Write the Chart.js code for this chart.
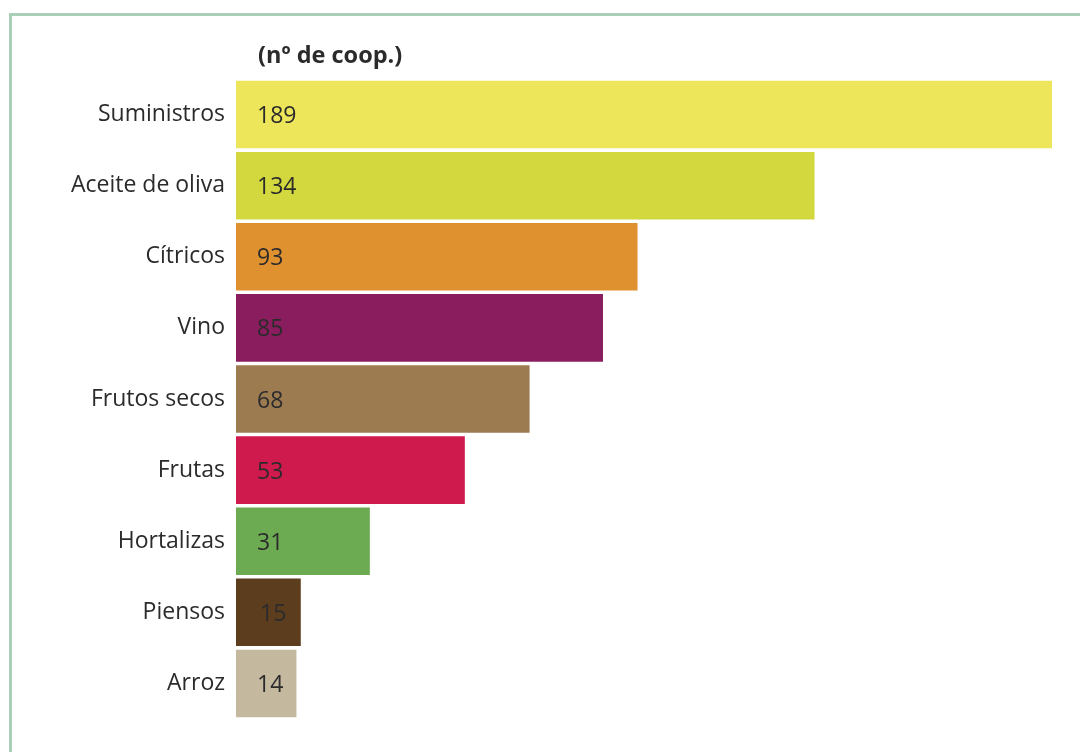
<!DOCTYPE html>
<html>
<head>
<meta charset="utf-8">
<script src="https://cdn.jsdelivr.net/npm/chart.js@4/dist/chart.umd.min.js"></script>
<style>
  html, body { margin: 0; padding: 0; background: #fff; }
  #wrap { width: 1080px; height: 752px; position: relative; }
</style>
</head>
<body>
<div id="wrap"><canvas id="coops" width="1080" height="752"></canvas></div>
<script>
const categories = [
  "Suministros",
  "Aceite de oliva",
  "Cítricos",
  "Vino",
  "Frutos secos",
  "Frutas",
  "Hortalizas",
  "Piensos",
  "Arroz",
];
const cooperatives = [189, 134, 93, 85, 68, 53, 31, 15, 14];
const barColors = [
  "#eee65a",
  "#d3d83e",
  "#e0912f",
  "#8a1d5e",
  "#9d7b51",
  "#cf1a4e",
  "#6dab53",
  "#5c3d1e",
  "#c4b89f",
];
const unitLabel = "(nº de coop.)";

const FONT = "'Open Sans', sans-serif";

// frame + heading + value labels
const decorations = {
  id: "decorations",
  beforeDraw(chart) {
    const c = chart.ctx;
    c.save();
    c.strokeStyle = "#a9cfb9";
    c.lineWidth = 3;
    c.beginPath();
    c.moveTo(10.5, 800);
    c.lineTo(10.5, 14.5);
    c.lineTo(1100, 14.5);
    c.stroke();
    c.restore();
  },
  afterDatasetsDraw(chart) {
    const c = chart.ctx;
    const area = chart.chartArea;
    c.save();
    c.fillStyle = "#2b2b2b";
    c.font = "bold 23.5px " + FONT;
    c.textBaseline = "middle";
    c.fillText(unitLabel, area.left + 22, 56);
    c.font = "23px " + FONT;
    const meta = chart.getDatasetMeta(0);
    meta.data.forEach((bar, i) => {
      const x = i === 7 ? bar.base + 24 : bar.base + 21;
      c.fillText(String(cooperatives[i]), x, bar.y + 2);
    });
    c.restore();
  },
};

const ctx = document.getElementById("coops").getContext("2d");
const coopChart = new Chart(ctx, {
  type: "bar",
  data: {
    labels: categories,
    datasets: [
      {
        label: "Cooperativas",
        data: cooperatives,
        backgroundColor: barColors,
        borderWidth: 0,
        barPercentage: 0.95,
        categoryPercentage: 1.0,
      },
    ],
  },
  options: {
    indexAxis: "y",
    responsive: false,
    animation: false,
    layout: { padding: { top: 79, bottom: 33, right: 28, left: 0 } },
    plugins: {
      legend: { display: false },
      tooltip: { enabled: false },
    },
    scales: {
      x: {
        display: false,
        min: 0,
        max: 189,
      },
      y: {
        grid: { display: false },
        border: { display: false },
        ticks: {
          color: "#2b2b2b",
          font: { family: FONT, size: 23 },
          padding: 3,
        },
        afterFit(scale) {
          scale.width = 236;
        },
      },
    },
  },
  plugins: [decorations],
});
</script>
</body>
</html>
